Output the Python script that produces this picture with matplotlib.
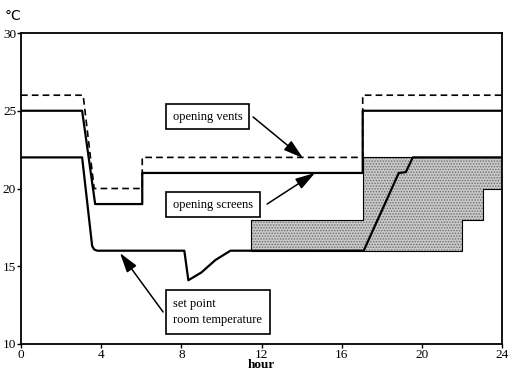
import matplotlib
matplotlib.use("Agg")
import matplotlib.pyplot as plt
from matplotlib.patches import Polygon

# ---- data ----
vents_x = [0, 3.1, 3.65, 6.05, 6.05, 17.05, 17.05, 24]
vents_y = [26, 26, 20, 20, 22, 22, 26, 26]

screens_x = [0, 3.05, 3.7, 6.05, 6.05, 17.05, 17.05, 24]
screens_y = [25, 25, 19, 19, 21, 21, 25, 25]

room_x = [0, 3.05, 3.55, 3.65, 3.8, 8.15, 8.35, 9.0, 9.7, 10.45, 17.1, 18.85, 19.2, 19.55, 24]
room_y = [22, 22, 16.3, 16.08, 16, 16, 14.1, 14.6, 15.4, 16, 16, 21, 21.05, 22, 22]

shade_x = [11.5, 11.5, 17.05, 17.05, 24, 24, 23.05, 23.05, 22, 22]
shade_y = [16, 18, 18, 22, 22, 20, 20, 18, 18, 16]

xticks = [0, 4, 8, 12, 16, 20, 24]
yticks = [10, 15, 20, 25, 30]

serif = ["Liberation Serif", "DejaVu Serif"]
plt.rcParams["font.family"] = serif
plt.rcParams["hatch.linewidth"] = 0.7

fig = plt.figure(figsize=(5.09, 3.73), dpi=100)
ax = fig.add_axes([21/509, 1-344/373, (502-21)/509, (344-33)/373])

# shaded region
pts = list(zip(shade_x, shade_y))
ax.add_patch(Polygon(pts, closed=True, facecolor="#c9c9c9", edgecolor="#6e6e6e",
                     hatch="......", lw=0, zorder=1))
ax.add_patch(Polygon(pts, closed=True, facecolor="none", edgecolor="black",
                     lw=0.8, zorder=2))

ax.plot(vents_x, vents_y, color="black", lw=1.2, ls=(0, (4, 2.5)), zorder=3)
ax.plot(screens_x, screens_y, color="black", lw=1.6, zorder=3)
ax.plot(room_x, room_y, color="black", lw=1.6, zorder=3)

ax.set_xlim(0, 24)
ax.set_ylim(10, 30)
ax.set_xticks(xticks)
ax.set_yticks(yticks)
ax.tick_params(direction="out", length=3, width=1, labelsize=9.5, pad=0.5)
for s in ax.spines.values():
    s.set_linewidth(1.3)
ax.set_xlabel("hour", fontsize=9.5, fontweight="bold", labelpad=-1)

fig.text(5/509, 1-16/373, "°C", fontsize=10, family=["DejaVu Sans"], va="center", ha="left")

box = dict(boxstyle="square,pad=0.55", facecolor="white", edgecolor="black", lw=1.2)
ax.text(9.31, 24.63, "opening vents", fontsize=9, ha="center", va="center", bbox=box, zorder=5)
ax.text(9.58, 18.97, "opening screens", fontsize=9, ha="center", va="center", bbox=box, zorder=5)
ax.text(7.6, 12.06, "set point\nroom temperature", fontsize=9, ha="left", va="center",
        bbox=dict(boxstyle="square,pad=0.6", facecolor="white", edgecolor="black", lw=1.2),
        linespacing=1.5, zorder=5)

ap = dict(arrowstyle="-|>,head_length=1.0,head_width=0.3", color="black", lw=1.1,
          shrinkA=0, shrinkB=0, mutation_scale=12)
ax.annotate("", xy=(14.07, 21.96), xytext=(11.58, 24.6), arrowprops=ap, zorder=6)
ax.annotate("", xy=(14.67, 21.0), xytext=(12.28, 19.0), arrowprops=ap, zorder=6)
ax.annotate("", xy=(4.94, 15.85), xytext=(7.09, 12.06), arrowprops=ap, zorder=6)

fig.savefig("out.png", dpi=100)
